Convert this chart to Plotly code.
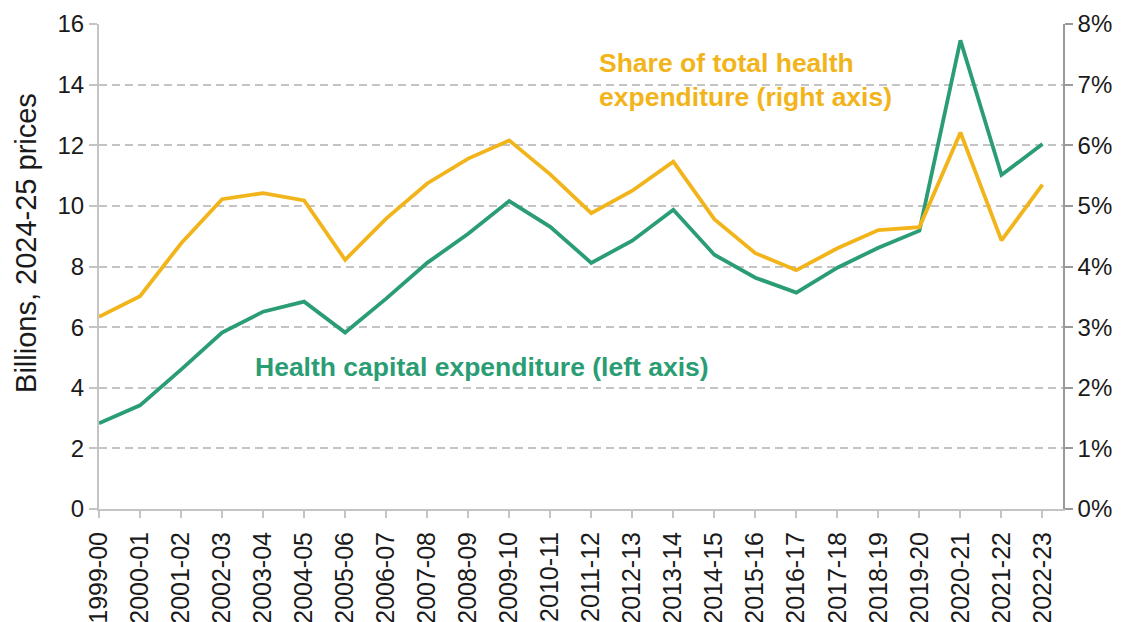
import plotly.graph_objects as go

years = ["1999-00", "2000-01", "2001-02", "2002-03", "2003-04", "2004-05", "2005-06",
         "2006-07", "2007-08", "2008-09", "2009-10", "2010-11", "2011-12", "2012-13",
         "2013-14", "2014-15", "2015-16", "2016-17", "2017-18", "2018-19", "2019-20",
         "2020-21", "2021-22", "2022-23"]

capital_bn = [2.83, 3.42, 4.60, 5.82, 6.51, 6.84, 5.82, 6.94, 8.12, 9.08, 10.16, 9.31,
              8.12, 8.85, 9.87, 8.39, 7.63, 7.14, 7.96, 8.62, 9.18, 15.46, 11.02, 12.04]

share_pct = [3.17, 3.51, 4.38, 5.11, 5.21, 5.09, 4.11, 4.79, 5.37, 5.78, 6.08, 5.52,
             4.88, 5.25, 5.73, 4.78, 4.22, 3.94, 4.30, 4.60, 4.65, 6.21, 4.43, 5.35]

GREEN = "#2a9d74"
ORANGE = "#f2b41b"
GRID = "#c4c4c4"
FONT = "Liberation Sans, Arial, sans-serif"

fig = go.Figure()
fig.add_trace(go.Scatter(x=years, y=share_pct, yaxis="y2", mode="lines",
                         line=dict(color=ORANGE, width=3.8), name="Share"))
fig.add_trace(go.Scatter(x=years, y=capital_bn, yaxis="y", mode="lines",
                         line=dict(color=GREEN, width=3.8), name="Capital"))

fig.update_layout(
    width=1130, height=622,
    margin=dict(l=91, r=75, t=16, b=121),
    paper_bgcolor="white", plot_bgcolor="white",
    showlegend=False,
    font=dict(family=FONT, size=24, color="#1a1a1a"),
    xaxis=dict(type="category", range=[0, 23.5], showgrid=False, automargin=False,
               showline=True, linecolor=GRID, linewidth=2,
               ticks="outside", ticklen=7, tickcolor=GRID, tickwidth=2,
               ticklabelstandoff=4,
               tickangle=-90, tickfont=dict(size=25)),
    yaxis=dict(range=[0, 16], dtick=2, showline=True, linecolor=GRID, linewidth=2,
               ticks="outside", ticklen=8, tickcolor=GRID, tickwidth=2, automargin=False,
               showgrid=True, gridcolor=GRID, griddash="8px,5px", gridwidth=2,
               zeroline=False, tickfont=dict(size=24)),
    yaxis2=dict(range=[0, 8], dtick=1, overlaying="y", side="right", automargin=False,
                ticksuffix="%", showline=True, linecolor="#9a9a9a", linewidth=1.5,
                ticks="outside", ticklen=8, tickcolor="#9a9a9a", tickwidth=1.5,
                showgrid=False, zeroline=False, tickfont=dict(size=24)),
    annotations=[
        dict(xref="paper", yref="paper", x=-0.076, y=0.548, xanchor="center", yanchor="middle",
             text="Billions, 2024-25 prices", showarrow=False, textangle=-90,
             font=dict(family=FONT, size=29, color="#1a1a1a")),
        dict(xref="paper", yref="paper", x=0.5166, y=0.884, xanchor="left", yanchor="middle",
             text="Share of total health<br>expenditure (right axis)", showarrow=False,
             align="left", font=dict(family=FONT, size=26.5, color=ORANGE, weight="bold")),
        dict(xref="paper", yref="paper", x=0.16, y=0.293, xanchor="left", yanchor="middle",
             text="Health capital expenditure (left axis)", showarrow=False,
             align="left", font=dict(family=FONT, size=26.5, color=GREEN, weight="bold")),
    ],
)

fig.write_html("out.html")
